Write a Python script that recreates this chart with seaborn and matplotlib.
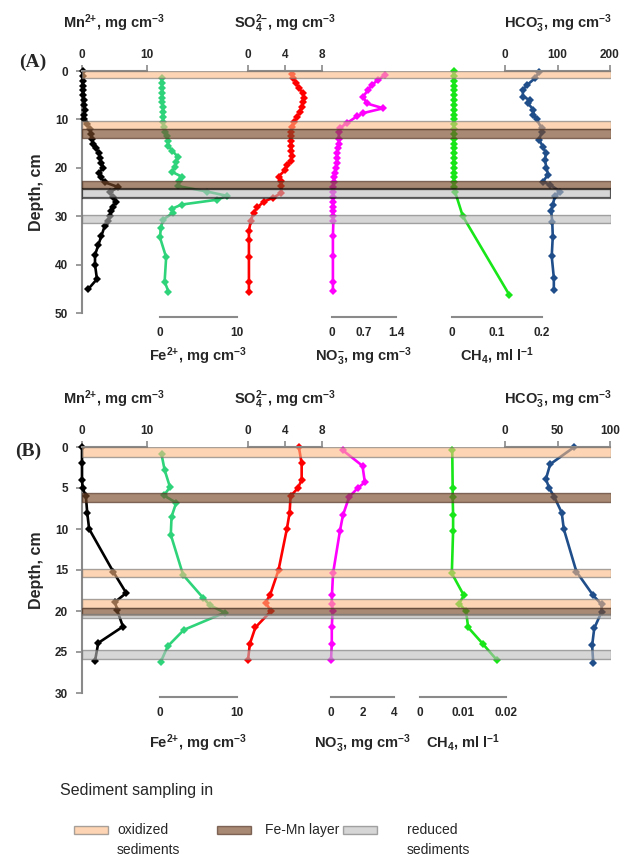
import matplotlib
matplotlib.use("Agg")
import matplotlib.pyplot as plt
from matplotlib.patches import Rectangle
import pandas as pd
import seaborn as sns

# ---------------- panel A (depth, cm) ----------------
A_MN_DEPTH = [0, 1, 2, 3, 4, 5, 6, 7, 8, 9, 10, 11, 12, 13, 14, 15, 16, 17, 18, 19, 20,
              21, 22, 23, 24, 25, 26, 27, 28, 29, 30, 31, 32, 34, 36, 38, 40, 43, 45]
A_MN = [0.1, 0.1, 0.1, 0.1, 0.2, 0.2, 0.3, 0.3, 0.4, 0.3, 0.3, 0.8, 1.2, 1.4, 1.6, 1.7, 2.2,
        2.6, 2.8, 3.0, 3.3, 2.6, 2.9, 3.5, 5.6, 4.3, 4.7, 5.2, 4.8, 4.5, 4.3, 4.0, 3.5, 3.0,
        2.5, 2.0, 2.0, 2.3, 1.0]

A_FE_DEPTH = [1.5, 2.5, 3.5, 4.5, 5.5, 6.5, 7.5, 8.5, 9.5, 10.5, 11.5, 12.5, 13.5, 14.5, 15.5,
              16.5, 17.7, 18.7, 19.8, 20.8, 21.8, 22.8, 23.8, 24.9, 25.8, 26.6, 27.6, 28.5,
              29.3, 30.7, 32.5, 34.4, 38.5, 43.5, 45.6]
A_FE = [0.2, 0.2, 0.3, 0.3, 0.3, 0.3, 0.4, 0.4, 0.4, 0.4, 0.5, 0.7, 0.9, 1.0, 1.1, 1.6, 2.3,
        2.1, 2.0, 1.5, 2.8, 2.5, 2.4, 6.1, 8.7, 7.4, 2.8, 1.5, 1.7, 0.4, 0.1, 0.0, 0.8, 0.6, 1.1]

A_SO4_DEPTH = [0.7, 1.5, 2.5, 3.5, 4.5, 5.5, 6.5, 7.5, 8.5, 9.5, 10.5, 11.5, 12.5, 13.5, 14.5,
               15.5, 16.5, 17.5, 18.5, 19.5, 20.5, 21.8, 22.8, 23.8, 25.2, 26.2, 27.0, 28.2,
               29.3, 31.0, 33, 35, 38.5, 43.5, 45.6]
A_SO4 = [4.8, 4.9, 5.2, 5.5, 5.9, 6.0, 5.9, 5.8, 5.6, 5.3, 5.0, 4.8, 4.6, 4.6, 4.6, 4.7, 4.7,
         4.8, 4.6, 4.2, 4.0, 3.3, 3.6, 3.6, 3.6, 2.7, 1.7, 1.0, 0.6, 0.3, 0.1, 0.1, 0.1, 0.1, 0.1]

A_NO3_DEPTH = [0.8, 1.9, 2.9, 3.9, 5.3, 6.7, 7.7, 8.7, 9.4, 10.8, 11.8, 12.7, 14, 15, 16, 17,
               18, 19, 20, 21, 22, 23, 24, 25, 26, 27, 28, 29, 30, 31, 34, 38.3, 43.5, 45.4]
A_NO3 = [1.16, 1.0, 0.87, 0.79, 0.68, 0.76, 1.12, 0.68, 0.54, 0.32, 0.17, 0.15, 0.15, 0.15,
         0.13, 0.1, 0.12, 0.1, 0.08, 0.06, 0.05, 0.04, 0.03, 0.03, 0.03, 0.02, 0.03, 0.03,
         0.02, 0.03, 0.02, 0.02, 0.02, 0.02]

A_CH4_DEPTH = [0, 1, 2, 3, 4, 5, 6, 7, 8, 9, 10, 11, 12, 13, 14, 15, 16, 17, 18, 19, 20, 21,
               22, 23, 24, 25, 30, 46.2]
A_CH4 = [0.004, 0.004, 0.004, 0.004, 0.004, 0.004, 0.004, 0.004, 0.004, 0.004, 0.004, 0.004,
         0.004, 0.004, 0.004, 0.004, 0.004, 0.004, 0.004, 0.004, 0.004, 0.004, 0.004, 0.004,
         0.004, 0.007, 0.024, 0.127]

A_HCO3_DEPTH = [0.2, 1.5, 2.9, 3.9, 5.3, 6.0, 6.7, 8.0, 9.0, 10.0, 11.8, 12.6, 14.2, 15.6, 17.0,
                18.4, 20.0, 21.4, 22.9, 23.5, 24.9, 25.9, 27.6, 29.0, 31.1, 34.2, 38.3, 42.7,
                45.2]
A_HCO3 = [65, 57, 42, 34, 34, 48, 44, 54, 54, 60, 70, 70, 65, 72, 78, 76, 79, 82, 72, 86, 105,
          95, 91, 88, 90, 91, 89, 93, 93]

A_OXIDIZED = [(0, 1.4), (10.3, 12.0)]
A_FEMN = [(12.0, 13.8), (22.7, 24.3)]
A_REDUCED = [(24.3, 26.2), (29.7, 31.5)]

# ---------------- panel B (depth, cm) ----------------
B_MN_DEPTH = [0, 2, 4, 5, 6, 8, 10, 15.2, 17.8, 18.9, 19.9, 21.9, 23.9, 26.1]
B_MN = [0, 0, 0, 0.1, 0.6, 0.8, 1.1, 4.8, 6.8, 5.1, 5.4, 6.3, 2.5, 2.0]

B_FE_DEPTH = [0.9, 2.8, 4.9, 5.9, 6.8, 8.5, 10.7, 15.6, 18.4, 19.3, 20.2, 22.3, 24.3, 26.2]
B_FE = [0.2, 0.6, 1.3, 0.5, 2.1, 1.5, 1.4, 3.0, 5.6, 6.5, 8.4, 3.1, 1.0, 0.1]

B_SO4_DEPTH = [0, 2, 4, 5, 6, 8, 10, 15, 18, 19, 20, 22, 24, 26]
B_SO4 = [5.5, 5.8, 5.8, 5.4, 4.6, 4.5, 4.2, 3.3, 2.4, 1.9, 2.5, 0.8, 0.2, 0.0]

B_NO3_DEPTH = [0.4, 2.3, 4.3, 5.0, 6.1, 8.3, 10.2, 15.4, 18.1, 19.1, 20.0, 22.0, 24.0, 26.0]
B_NO3 = [0.75, 2.0, 2.15, 1.7, 1.15, 0.76, 0.57, 0.13, 0.06, 0.05, 0.1, 0.05, 0.05, 0.0]

B_CH4_DEPTH = [0.4, 5.0, 6.1, 8.3, 10.2, 15.4, 18.1, 19.1, 20.0, 22.0, 24.0, 26.0]
B_CH4 = [0.0075, 0.0076, 0.0076, 0.0077, 0.0077, 0.0074, 0.0102, 0.0091, 0.0107, 0.0112,
         0.0146, 0.0179]

B_HCO3_DEPTH = [0, 2.1, 3.9, 5.0, 6.1, 8.0, 10.0, 15.2, 18.1, 19.2, 20.1, 22.1, 24.2, 26.3]
B_HCO3 = [66, 43, 39, 42, 47, 54, 56, 68, 84, 92, 92, 85, 83, 84]

B_OXIDIZED = [(0, 1.2), (14.9, 15.8), (18.5, 19.6)]
B_FEMN = [(5.6, 6.7), (19.6, 20.5)]
B_REDUCED = [(20.4, 20.9), (24.7, 25.8)]

LEGEND_LABELS = ["oxidized\nsediments", "Fe-Mn layer", "reduced\nsediments"]

sns.set_theme(style="white")
plt.rcParams["font.family"] = ["Liberation Sans", "DejaVu Sans"]
plt.rcParams["font.weight"] = "bold"
plt.rcParams["axes.labelweight"] = "bold"
plt.rcParams["mathtext.default"] = "regular"

W, H = 622, 858
fig = plt.figure(figsize=(W / 100, H / 100), dpi=100)

GRAY = "#8a8a8a"
COLORS = {"mn": "#000000", "fe": "#2fd47a", "so4": "#ff0000", "no3": "#ff00ff",
          "ch4": "#19e619", "hco3": "#1f4e8a"}
BANDS = {"oxidized": ("#fcb982", 0.6, "#6f6f6f"),
         "femn": ("#7a4c2a", 0.65, "#4e3020"),
         "reduced": ("#bcbcbc", 0.6, "#6f6f6f")}

MN_T = r"Mn$^{2{+}}$, mg cm$^{-3}$"
SO4_T = r"SO$_4^{2{-}}$, mg cm$^{-3}$"
HCO3_T = r"HCO$_3^{-}$, mg cm$^{-3}$"
FE_T = r"Fe$^{2{+}}$, mg cm$^{-3}$"
NO3_T = r"NO$_3^{-}$, mg cm$^{-3}$"
CH4_T = r"CH$_4$, ml l$^{-1}$"


def box(x0, x1, y0, y1):
    # pixel box -> figure fraction rect
    return [x0 / W, 1 - y1 / H, (x1 - x0) / W, (y1 - y0) / H]


def draw_panel(top, bottom, depth_max, yticks, profiles, bands, tag, tag_xy, bottom_pad):
    ax = fig.add_axes(box(82, 611, top, bottom))
    ax.patch.set_visible(False)
    ax.set_xlim(0, 1)
    ax.set_xticks([])
    ax.set_yticks(yticks)
    for s in ["top", "right", "bottom"]:
        ax.spines[s].set_visible(False)
    ax.spines["left"].set_color(GRAY)
    ax.spines["left"].set_linewidth(1.5)
    ax.tick_params(axis="y", left=True, direction="out", length=4, width=1.2,
                   color=GRAY, labelsize=8.5, pad=6)
    ax.set_ylabel("Depth, cm", fontsize=11.5, fontweight="bold", labelpad=8)

    for x0, x1, lim, ticks, labels, side, title, depth, vals, color in profiles:
        sub = fig.add_axes(box(x0, x1, top, bottom), sharey=ax)
        sub.patch.set_visible(False)
        df = pd.DataFrame({"depth": depth, "value": vals})
        sns.lineplot(data=df, x="value", y="depth", orient="y", estimator=None, ax=sub,
                     color=color, marker="D", markersize=3.8, markeredgewidth=0,
                     linewidth=1.9, clip_on=False)
        sub.set_xlim(lim)
        sub.set_xticks(ticks, labels)
        sub.set_ylabel("")
        for s in sub.spines.values():
            s.set_visible(False)
        if side == "top":
            sub.xaxis.tick_top()
            sub.xaxis.set_label_position("top")
            sp = sub.spines["top"]
            pad = 15
        else:
            sp = sub.spines["bottom"]
            sp.set_position(("outward", 3))
            pad = bottom_pad
        sp.set_visible(True)
        sp.set_color(GRAY)
        sp.set_linewidth(1.5)
        sub.tick_params(axis="x", direction="out", length=4, width=1.2, color=GRAY,
                        labelsize=8.5, pad=3)
        sub.tick_params(axis="y", left=False, labelleft=False)
        sub.set_xlabel(title, fontsize=10.5, fontweight="bold", labelpad=pad)

    # sediment bands drawn over the profiles
    ov = fig.add_axes(box(82, 611, top, bottom), sharey=ax)
    ov.set_axis_off()
    for kind, spans in bands:
        face, alpha, edge = BANDS[kind]
        for d0, d1 in spans:
            strong = tag == "(A)" and kind == "reduced" and d0 == 24.3
            ov.axhspan(d0, d1, facecolor=face, alpha=alpha,
                       edgecolor="black" if strong else edge,
                       linewidth=1.6 if strong else 1.0)

    ax.set_ylim(depth_max, 0)
    fig.text(tag_xy[0] / W, 1 - tag_xy[1] / H, tag, family="Liberation Serif",
             fontsize=14, weight="bold", ha="center", va="center")


draw_panel(71, 313, 50, [0, 10, 20, 30, 40, 50], [
    (82, 147, (0, 10), [0, 10], ["0", "10"], "top", MN_T, A_MN_DEPTH, A_MN, COLORS["mn"]),
    (160, 237, (0, 10), [0, 10], ["0", "10"], "bottom", FE_T, A_FE_DEPTH, A_FE, COLORS["fe"]),
    (248, 322, (0, 8), [0, 4, 8], ["0", "4", "8"], "top", SO4_T, A_SO4_DEPTH, A_SO4, COLORS["so4"]),
    (332, 396, (0, 1.4), [0, 0.7, 1.4], ["0", "0.7", "1.4"], "bottom", NO3_T, A_NO3_DEPTH, A_NO3, COLORS["no3"]),
    (452, 542, (0, 0.2), [0, 0.1, 0.2], ["0", "0.1", "0.2"], "bottom", CH4_T, A_CH4_DEPTH, A_CH4, COLORS["ch4"]),
    (505, 610, (0, 200), [0, 100, 200], ["0", "100", "200"], "top", HCO3_T, A_HCO3_DEPTH, A_HCO3, COLORS["hco3"]),
], [("oxidized", A_OXIDIZED), ("femn", A_FEMN), ("reduced", A_REDUCED)], "(A)", (33, 62), 5)

draw_panel(447, 693, 30, [0, 5, 10, 15, 20, 25, 30], [
    (82, 147, (0, 10), [0, 10], ["0", "10"], "top", MN_T, B_MN_DEPTH, B_MN, COLORS["mn"]),
    (160, 237, (0, 10), [0, 10], ["0", "10"], "bottom", FE_T, B_FE_DEPTH, B_FE, COLORS["fe"]),
    (248, 322, (0, 8), [0, 4, 8], ["0", "4", "8"], "top", SO4_T, B_SO4_DEPTH, B_SO4, COLORS["so4"]),
    (331, 394, (0, 4), [0, 2, 4], ["0", "2", "4"], "bottom", NO3_T, B_NO3_DEPTH, B_NO3, COLORS["no3"]),
    (420, 506, (0, 0.02), [0, 0.01, 0.02], ["0", "0.01", "0.02"], "bottom", CH4_T, B_CH4_DEPTH, B_CH4, COLORS["ch4"]),
    (505, 610, (0, 100), [0, 50, 100], ["0", "50", "100"], "top", HCO3_T, B_HCO3_DEPTH, B_HCO3, COLORS["hco3"]),
], [("oxidized", B_OXIDIZED), ("femn", B_FEMN), ("reduced", B_REDUCED)], "(B)", (28, 451), 10)

# legend block
fig.text(60 / W, 1 - 790 / H, "Sediment sampling in", fontsize=11.5, weight="normal",
         ha="left", va="center")
for (sx, tx), kind, label in zip([(74, 117), (217, 265), (343, 407)],
                                 ["oxidized", "femn", "reduced"], LEGEND_LABELS):
    face, alpha, edge = BANDS[kind]
    fig.add_artist(Rectangle((sx / W, 1 - 834 / H), 34 / W, 8 / H, facecolor=face,
                             alpha=alpha, edgecolor=edge, linewidth=1.0,
                             transform=fig.transFigure))
    fig.text(tx / W, 1 - 823 / H, label, fontsize=10, weight="normal", ha="left",
             va="top", linespacing=1.5)

fig.savefig("out.png", dpi=100)
